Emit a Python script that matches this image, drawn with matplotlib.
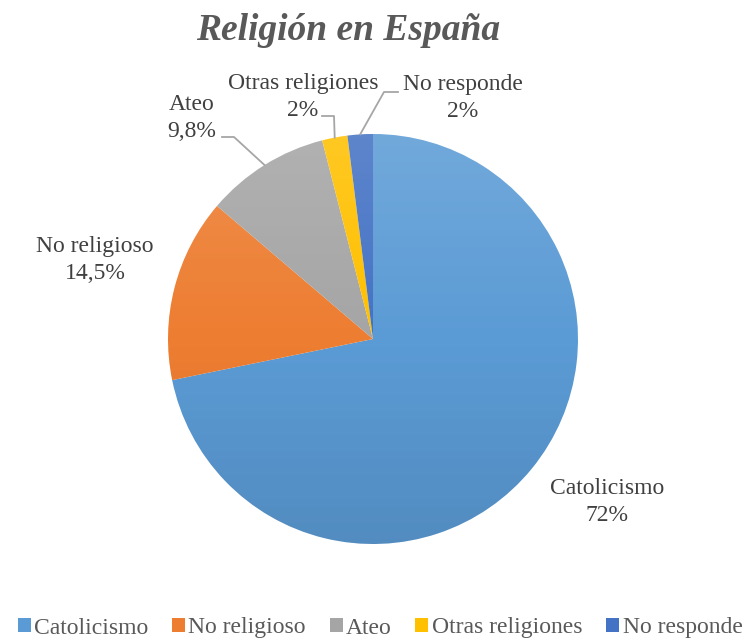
import numpy as np
import matplotlib
matplotlib.use("Agg")
import matplotlib.pyplot as plt
from matplotlib.patches import Circle

# Datos
categorias = ["Catolicismo", "No religioso", "Ateo", "Otras religiones", "No responde"]
valores = [72, 14.5, 9.8, 2, 2]
etiquetas_pct = ["72%", "14,5%", "9,8%", "2%", "2%"]
colores = ["#5B9BD5", "#ED7D31", "#A5A5A5", "#FFC000", "#4472C4"]

plt.rcParams['font.family'] = ['Liberation Serif', 'DejaVu Serif']

W, H = 745, 638
fig = plt.figure(figsize=(W / 100, H / 100), dpi=100)
ax = fig.add_axes([0, 0, 1, 1])

cx, cy, R = 373, H - 339, 205
wedges, _ = ax.pie(valores, colors=colores, startangle=90, counterclock=False,
                   center=(cx, cy), radius=R, frame=True,
                   wedgeprops=dict(linewidth=0))

# sombreado tipo Excel: claro arriba, oscuro abajo
g = np.linspace(1, -1, 256)[:, None]
rgba = np.zeros((256, 1, 4))
rgba[..., 0] = np.where(g > 0, 1.0, 0.0)
rgba[..., 1] = rgba[..., 0]
rgba[..., 2] = rgba[..., 0]
rgba[..., 3] = np.abs(g) * np.where(g > 0, 0.14, 0.10)
im = ax.imshow(rgba, extent=(cx - R, cx + R, cy - R, cy + R), aspect='auto',
               zorder=3, interpolation='bilinear')
im.set_clip_path(Circle((cx, cy), R, transform=ax.transData))
ax.set_xlim(0, W)
ax.set_ylim(0, H)
ax.axis('off')

txt = "#404040"
linea = "#A6A6A6"
fs = 17


def punto(w, frac=1.0):
    a = np.deg2rad((w.theta1 + w.theta2) / 2)
    return cx + R * frac * np.cos(a), cy + R * frac * np.sin(a)


# posiciones de etiquetas (centro del bloque de texto)
pos = [(607, H - 502), (95, H - 260), (192, H - 118), (303, H - 97), (463, H - 98)]
for i, (nombre, pct) in enumerate(zip(categorias, etiquetas_pct)):
    x, y = pos[i]
    ax.text(x, y, nombre + "\n" + pct, ha='center', va='center', fontsize=fs,
            color=txt, linespacing=1.35, zorder=5)

# líneas guía
px, py = punto(wedges[2])
ax.plot([222, 234, px], [H - 137, H - 137, py], color=linea, lw=1.3, zorder=4)
px, py = punto(wedges[3])
ax.plot([322, 334, px], [H - 116, H - 116, py], color=linea, lw=1.3, zorder=4)
px, py = punto(wedges[4])
ax.plot([398, 384, px], [H - 92, H - 92, py], color=linea, lw=1.3, zorder=4)

ax.text(348, H - 31, "Religión en España", ha='center', va='center',
        fontsize=27, fontweight='bold', fontstyle='italic', color="#595959")

leg = fig.legend(wedges, categorias, loc='center', bbox_to_anchor=(380 / W, 1 - 628 / H),
                 ncol=5, frameon=False, fontsize=17, handlelength=0.55,
                 handleheight=0.55, handletextpad=0.15, columnspacing=1.0,
                 borderaxespad=0)
for t in leg.get_texts():
    t.set_color("#595959")

fig.savefig("out.png", dpi=100)
